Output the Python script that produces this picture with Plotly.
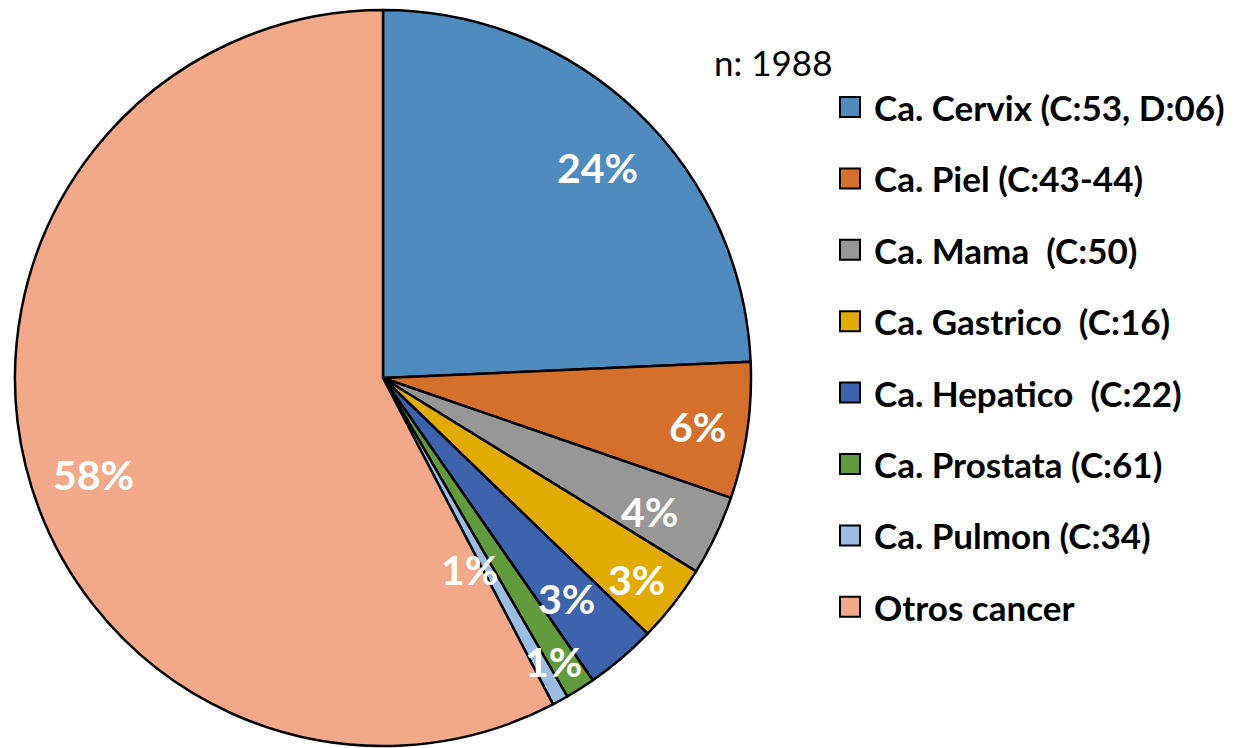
import math
import plotly.graph_objects as go

labels = ["Ca. Cervix (C:53, D:06)", "Ca. Piel (C:43-44)", "Ca. Mama  (C:50)",
          "Ca. Gastrico  (C:16)", "Ca. Hepatico  (C:22)", "Ca. Prostata (C:61)",
          "Ca. Pulmon (C:34)", "Otros cancer"]
counts = [483, 119, 70, 68, 62, 26, 14, 1146]
colors = ["#4F8BBE", "#D4702B", "#979797", "#E2AB00", "#3C63AC", "#629B3E", "#9ABDE1", "#F1A98A"]
# label placement (radial fraction, angle offset in degrees)
label_r = [0.815, 0.864, 0.81, 0.88, 0.78, 0.90, 0.57, 0.83]
label_da = [1.8, 0.5, 1.3, 0.7, 0.7, 1.4, 4.4, -4.6]

W, H = 1237, 748
cx, cy, R = 383, 378, 368

fig = go.Figure(go.Pie(
    labels=labels, values=counts, sort=False, direction="clockwise", rotation=0,
    marker=dict(colors=colors, line=dict(color="black", width=2.5)),
    textinfo="none", hoverinfo="label+percent", showlegend=False,
    domain=dict(x=[(cx - R) / W, (cx + R) / W], y=[1 - (cy + R) / H, 1 - (cy - R) / H]),
))

total = sum(counts)
cum = 0
annotations = []
for i, v in enumerate(counts):
    mid = (cum + v / 2) / total * 360 + label_da[i]
    cum += v
    th = math.radians(mid)
    px = cx + label_r[i] * R * math.sin(th)
    py = cy - label_r[i] * R * math.cos(th)
    annotations.append(dict(
        x=px / W, y=1 - py / H, xref="paper", yref="paper", showarrow=False,
        text=f"<b>{round(100 * v / total)}%</b>",
        font=dict(family="Lato", size=41, color="white"),
        xanchor="center", yanchor="middle"))

# legend built from the label list
shapes = []
ly0, lstep = 107, 71.4
for i, lab in enumerate(labels):
    yc = ly0 + i * lstep
    shapes.append(dict(type="rect", xref="paper", yref="paper",
                       x0=840 / W, x1=860 / W, y0=1 - (yc + 10) / H, y1=1 - (yc - 10) / H,
                       fillcolor=colors[i], line=dict(color="black", width=2)))
    annotations.append(dict(x=872 / W, y=1 - yc / H, xref="paper", yref="paper",
                            showarrow=False, text=f"<b>{lab}</b>",
                            font=dict(family="Lato", size=35, color="black"),
                            xanchor="left", yanchor="middle"))

annotations.append(dict(x=712 / W, y=1 - 62 / H, xref="paper", yref="paper", showarrow=False,
                        text="n: 1988", font=dict(family="Lato", size=35, color="black"),
                        xanchor="left", yanchor="middle"))

fig.update_layout(width=W, height=H, margin=dict(l=0, r=0, t=0, b=0),
                  paper_bgcolor="white", plot_bgcolor="white",
                  annotations=annotations, shapes=shapes)
fig.write_html("out.html", config={"displayModeBar": False},
               post_script="document.body.style.margin='0';document.body.style.padding='0';")
